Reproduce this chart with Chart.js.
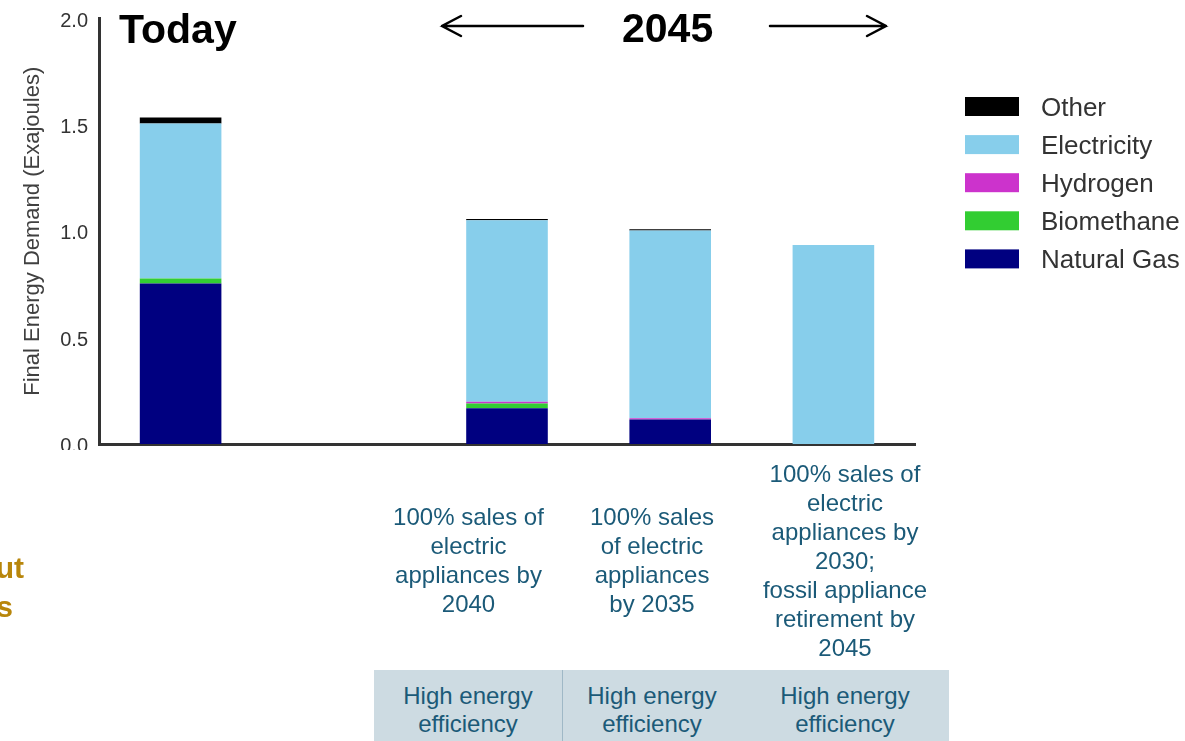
<!DOCTYPE html>
<html>
<head>
<meta charset="utf-8">
<title>Final energy demand</title>
<script src="https://cdn.jsdelivr.net/npm/chart.js@4.4.1/dist/chart.umd.min.js"></script>
<style>
    html, body { margin: 0; padding: 0; background: #fff; }
    #wrap {
        position: relative;
        width: 1185px;
        height: 741px;
        overflow: hidden;
        font-family: "Liberation Sans", Arial, sans-serif;
    }
    #chart { position: absolute; left: 0; top: 0; }
    .scenario {
        position: absolute;
        text-align: center;
        white-space: nowrap;
        color: #1b5a78;
        font-size: 24px;
        line-height: 29px;
    }
    #band {
        position: absolute;
        left: 374px;
        top: 670px;
        width: 575px;
        height: 71px;
        background: #cddbe2;
        display: flex;
    }
    #band div {
        box-sizing: border-box;
        padding-top: 12px;
        text-align: center;
        color: #1b5a78;
        font-size: 24px;
        line-height: 28px;
    }
    .side {
        position: absolute;
        right: 1161px;
        text-align: right;
        white-space: nowrap;
        color: #b8860b;
        font-weight: bold;
        font-size: 30px;
        line-height: 30px;
    }
</style>
</head>
<body>
<div id="wrap">
    <canvas id="chart" width="1185" height="741"></canvas>
    <div id="scenarios"></div>
    <div id="band"></div>
    <div class="side" style="top:553px">ut</div>
    <div class="side" style="top:592px;right:1172px">s</div>
</div>
<script>
// categories: today, a spacer slot, then the three 2045 scenarios
const categories = ['Today', '', 'Electric by 2040', 'Electric by 2035', 'Electric by 2030 + retirement'];

// final energy demand, exajoules
const naturalGas = [0.754, null, 0.168, 0.115, 0];
const biomethane = [0.024, null, 0.022, 0, 0];
const hydrogen = [0, null, 0.009, 0.006, 0];
const electricity = [0.729, null, 0.853, 0.883, 0.935];
const other = [0.028, null, 0.005, 0.005, 0];

const yTicks = [0, 0.5, 1.0, 1.5, 2.0];

const scenarioLines = [
    ['100% sales of', 'electric', 'appliances by', '2040'],
    ['100% sales', 'of electric', 'appliances', 'by 2035'],
    ['100% sales of', 'electric', 'appliances by', '2030;', 'fossil appliance', 'retirement by', '2045'],
];
const efficiencyLabels = ['High energy<br>efficiency', 'High energy<br>efficiency', 'High energy<br>efficiency'];

// scenario columns (left edge, width)
const columns = [
    { left: 374, width: 189 },
    { left: 563, width: 178 },
    { left: 741, width: 208 },
];

const scenarioBox = document.getElementById('scenarios');
scenarioLines.forEach((lines, i) => {
    const div = document.createElement('div');
    div.className = 'scenario';
    div.style.left = columns[i].left + 'px';
    div.style.width = columns[i].width + 'px';
    // centre each block vertically around y = 560
    div.style.top = Math.round(560 - (lines.length * 29) / 2) + 'px';
    div.innerHTML = lines.join('<br>');
    scenarioBox.appendChild(div);
});

const band = document.getElementById('band');
efficiencyLabels.forEach((txt, i) => {
    const div = document.createElement('div');
    div.style.width = columns[i].width + 'px';
    if (i === 0) div.style.borderRight = '1px solid #9fb8c6';
    div.innerHTML = txt;
    band.appendChild(div);
});

const series = [
    { label: 'Natural Gas', data: naturalGas, color: '#000080' },
    { label: 'Biomethane', data: biomethane, color: '#32cd32' },
    { label: 'Hydrogen', data: hydrogen, color: '#cc33cc' },
    { label: 'Electricity', data: electricity, color: '#87ceeb' },
    { label: 'Other', data: other, color: '#000000' },
];

// headings, arrows and the legend drawn straight onto the canvas
const decorations = {
    id: 'decorations',
    afterDraw(chart) {
        const ctx = chart.ctx;
        ctx.save();

        // hide the lower half of the 0.0 label, as on the slide
        ctx.fillStyle = '#fff';
        ctx.fillRect(0, 450, 95, 20);

        ctx.fillStyle = '#000';
        ctx.font = 'bold 41px "Liberation Sans", Arial, sans-serif';
        ctx.textBaseline = 'alphabetic';
        ctx.textAlign = 'left';
        ctx.fillText('Today', 119, 43);
        ctx.fillText('2045', 622, 42);

        ctx.strokeStyle = '#000';
        ctx.lineWidth = 2.5;
        ctx.lineCap = 'round';
        ctx.beginPath();
        ctx.moveTo(583, 26); ctx.lineTo(442, 26);
        ctx.moveTo(461, 16); ctx.lineTo(442, 26); ctx.lineTo(461, 36);
        ctx.moveTo(770, 26); ctx.lineTo(886, 26);
        ctx.moveTo(867, 16); ctx.lineTo(886, 26); ctx.lineTo(867, 36);
        ctx.stroke();

        // legend, top entry = top of the stack
        ctx.font = '26px "Liberation Sans", Arial, sans-serif';
        const items = chart.data.datasets.slice().reverse();
        items.forEach((ds, i) => {
            const cy = 106.5 + i * 38.1;
            ctx.fillStyle = ds.backgroundColor;
            ctx.fillRect(965, cy - 9.5, 54, 19);
            ctx.fillStyle = '#333';
            ctx.fillText(ds.label, 1041, cy + 9);
        });
        ctx.restore();
    },
};

new Chart(document.getElementById('chart'), {
    type: 'bar',
    data: {
        labels: categories,
        datasets: series.map((s) => ({
            label: s.label,
            data: s.data,
            backgroundColor: s.color,
            borderWidth: 0,
            barPercentage: 0.5,
            categoryPercentage: 1.0,
        })),
    },
    options: {
        responsive: false,
        animation: false,
        events: [],
        layout: { padding: { top: 18.5, right: 270, left: 0, bottom: 0 } },
        plugins: {
            legend: { display: false },
            tooltip: { enabled: false },
        },
        scales: {
            x: {
                stacked: true,
                grid: { display: false, drawTicks: false },
                ticks: { display: false },
                border: { display: true, color: '#333', width: 3 },
                afterFit: (scale) => {
                    scale.height = 297;
                    scale.paddingLeft = 0;
                    scale.paddingRight = 0;
                },
            },
            y: {
                stacked: true,
                min: 0,
                max: 2,
                afterBuildTicks: (scale) => { scale.ticks = yTicks.map((v) => ({ value: v })); },
                grid: { display: false, drawTicks: false },
                border: { display: true, color: '#333', width: 3 },
                ticks: {
                    padding: 11,
                    labelOffset: 2.5,
                    color: '#333',
                    font: { family: '"Liberation Sans", Arial, sans-serif', size: 20 },
                    callback: (v) => Number(v).toFixed(1),
                },
                title: {
                    display: true,
                    text: 'Final Energy Demand (Exajoules)',
                    color: '#404040',
                    font: { family: '"Liberation Sans", Arial, sans-serif', size: 22 },
                    padding: { top: 20, bottom: 0 },
                },
                afterFit: (scale) => {
                    scale.width = 99;
                    scale.paddingTop = 0;
                    scale.paddingBottom = 0;
                },
            },
        },
    },
    plugins: [decorations],
});
</script>
</body>
</html>
